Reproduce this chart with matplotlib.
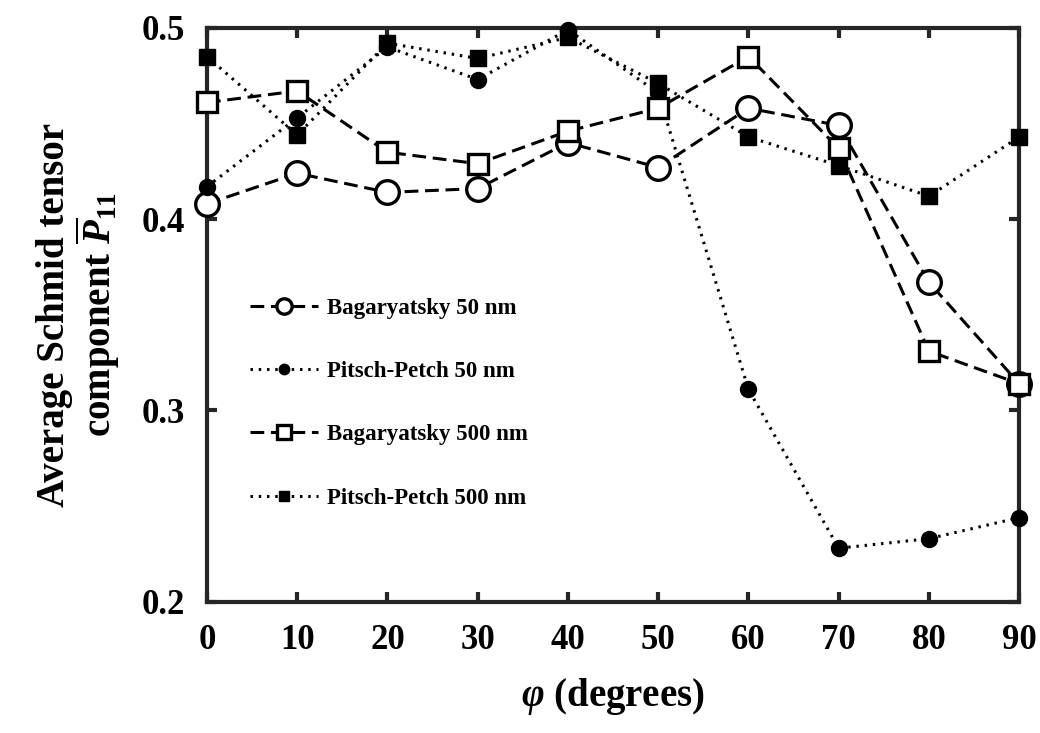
import numpy as np
import matplotlib
matplotlib.use('Agg')
import matplotlib.pyplot as plt

# angle phi (degrees)
phi = [0, 10, 20, 30, 40, 50, 60, 70, 80, 90]

# average Schmid tensor component P11
bag_50 = [0.408, 0.424, 0.414, 0.416, 0.440, 0.427, 0.458, 0.449, 0.367, 0.314]
pp_50 = [0.417, 0.453, 0.490, 0.473, 0.499, 0.466, 0.311, 0.228, 0.233, 0.244]
bag_500 = [0.461, 0.467, 0.435, 0.429, 0.446, 0.458, 0.485, 0.437, 0.331, 0.314]
pp_500 = [0.485, 0.444, 0.492, 0.484, 0.495, 0.471, 0.443, 0.428, 0.412, 0.443]

labels = ["Bagaryatsky 50 nm", "Pitsch-Petch 50 nm", "Bagaryatsky 500 nm", "Pitsch-Petch 500 nm"]

plt.rcParams['font.family'] = ['Liberation Serif', 'DejaVu Serif']
plt.rcParams['font.weight'] = 'bold'
plt.rcParams['mathtext.fontset'] = 'custom'
plt.rcParams['mathtext.it'] = 'Liberation Serif:italic:bold'
plt.rcParams['mathtext.rm'] = 'Liberation Serif:bold'
plt.rcParams['mathtext.bf'] = 'Liberation Serif:bold'

fig = plt.figure(figsize=(10.4, 7.33), dpi=100)
ax = fig.add_axes([0.199, 0.179, 0.781, 0.783])

dash = (0, (4.5, 2.2))
dot = (0, (0.8, 1.9))
ax.plot(phi, bag_50, linestyle=dash, color='black', lw=2.2, marker='o', ms=17,
        mfc='white', mec='black', mew=2.4, label=labels[0], zorder=3, clip_on=False)
ax.plot(phi, pp_50, linestyle=dot, color='black', lw=2.2, marker='o', ms=11.5,
        mfc='black', mec='black', label=labels[1], zorder=3, clip_on=False)
ax.plot(phi, bag_500, linestyle=dash, color='black', lw=2.2, marker='s', ms=15,
        mfc='white', mec='black', mew=2.4, label=labels[2], zorder=3, clip_on=False)
ax.plot(phi, pp_500, linestyle=dot, color='black', lw=2.2, marker='s', ms=11,
        mfc='black', mec='black', label=labels[3], zorder=3, clip_on=False)

ax.set_xlim(0, 90)
ax.set_ylim(0.2, 0.5)
ax.set_xticks(np.arange(0, 91, 10))
ax.set_yticks([0.2, 0.3, 0.4, 0.5])
ax.set_yticklabels(["0.2", "0.3", "0.4", "0.5"])

for s in ax.spines.values():
    s.set_linewidth(3)
    s.set_color('#262626')
    s.set_zorder(2)

ax.tick_params(direction='in', length=7, width=3, color='#262626',
               top=True, right=True, labelsize=25, pad=16)
for t in ax.get_xticklabels() + ax.get_yticklabels():
    t.set_fontweight('bold')

ax.set_xlabel(r"$\varphi$ (degrees)", fontsize=28, fontweight='bold', labelpad=14)
ax.set_ylabel("Average Schmid tensor\ncomponent $\\overline{P}_{11}$",
              fontsize=28, fontweight='bold', labelpad=14, linespacing=1.0)

leg = ax.legend(loc='upper left', bbox_to_anchor=(0.027, 0.566), frameon=False,
                prop={'family': 'Liberation Serif', 'weight': 'bold', 'size': 16.5},
                labelspacing=1.85, handlelength=3.0, handletextpad=0.4, markerscale=0.65)

fig.savefig("out.png", dpi=100)
